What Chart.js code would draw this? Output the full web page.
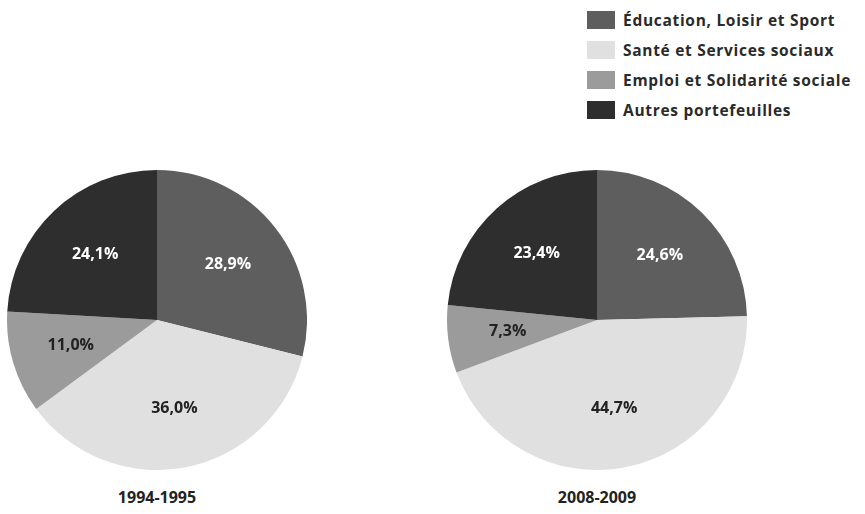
<!DOCTYPE html>
<html>
<head>
<meta charset="utf-8">
<script src="https://cdn.jsdelivr.net/npm/chart.js@4"></script>
<style>
  body { margin: 0; background: #fff; width: 865px; height: 514px; position: relative; overflow: hidden; font-family: "Open Sans", "DejaVu Sans", sans-serif; }
  .pie { position: absolute; top: 170px; }
  .caption { position: absolute; top: 486px; width: 200px; text-align: center; font-weight: bold; font-size: 16px; color: #222; }
  #legend { position: absolute; left: 587px; top: 5px; }
  .item { height: 30px; display: flex; align-items: center; font-weight: bold; font-size: 15.5px; letter-spacing: 0.7px; color: #2a2a2a; white-space: nowrap; }
  .box { width: 28px; height: 18px; margin-right: 8px; }
</style>
</head>
<body>
<div id="legend"></div>
<canvas id="pie1" class="pie" style="left:7px" width="300" height="300"></canvas>
<canvas id="pie2" class="pie" style="left:447px" width="300" height="300"></canvas>
<div class="caption" style="left:57px">1994-1995</div>
<div class="caption" style="left:497px">2008-2009</div>
<script>
const categories = [
  "Éducation, Loisir et Sport",
  "Santé et Services sociaux",
  "Emploi et Solidarité sociale",
  "Autres portefeuilles",
];
const values1994 = [28.9, 36.0, 11.0, 24.1];
const values2008 = [24.6, 44.7, 7.3, 23.4];
const colors = ["#5e5e5e", "#e0e0e0", "#9b9b9b", "#2e2e2e"];
const labelColors = ["#ffffff", "#222222", "#222222", "#ffffff"];

// legend
const legend = document.getElementById("legend");
categories.forEach((c, i) => {
  const row = document.createElement("div");
  row.className = "item";
  row.innerHTML = '<span class="box" style="background:' + colors[i] + '"></span>' + c;
  legend.appendChild(row);
});

const sliceLabels = {
  id: "sliceLabels",
  afterDatasetsDraw(chart) {
    const ctx = chart.ctx;
    const meta = chart.getDatasetMeta(0);
    ctx.save();
    ctx.font = "bold 16px 'Open Sans', 'DejaVu Sans', sans-serif";
    ctx.textAlign = "center";
    ctx.textBaseline = "middle";
    meta.data.forEach((arc, i) => {
      const mid = (arc.startAngle + arc.endAngle) / 2;
      const r = arc.outerRadius * 0.6;
      const x = arc.x + Math.cos(mid) * r;
      const y = arc.y + Math.sin(mid) * r;
      const v = chart.data.datasets[0].data[i];
      ctx.fillStyle = labelColors[i];
      ctx.fillText(v.toFixed(1).replace(".", ",") + "%", x, y);
    });
    ctx.restore();
  },
};

function makePie(id, values) {
  new Chart(document.getElementById(id), {
    type: "pie",
    data: {
      labels: categories,
      datasets: [{
        data: values,
        backgroundColor: colors,
        borderWidth: 0,
      }],
    },
    options: {
      responsive: false,
      animation: false,
      layout: { padding: 0 },
      plugins: {
        legend: { display: false },
        tooltip: { enabled: false },
      },
    },
    plugins: [sliceLabels],
  });
}

makePie("pie1", values1994);
makePie("pie2", values2008);
</script>
</body>
</html>
